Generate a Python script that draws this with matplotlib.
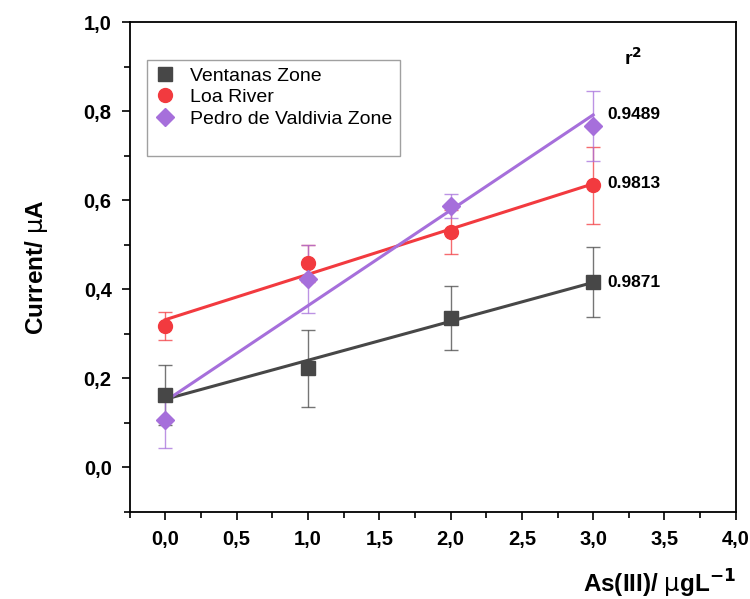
import numpy as np
import matplotlib
matplotlib.use("Agg")
import matplotlib.pyplot as plt
from matplotlib.ticker import MultipleLocator, FuncFormatter
from matplotlib.lines import Line2D

plt.rcParams['font.family'] = ['Liberation Sans', 'DejaVu Sans']

conc = [0.0, 1.0, 2.0, 3.0]

ventanas = [0.162, 0.222, 0.335, 0.416]
ventanas_err = [0.068, 0.086, 0.073, 0.079]
loa = [0.317, 0.458, 0.528, 0.633]
loa_err = [0.032, 0.042, 0.050, 0.087]
pedro = [0.106, 0.422, 0.586, 0.766]
pedro_err = [0.064, 0.076, 0.027, 0.079]

r2_labels = ['0.9871', '0.9813', '0.9489']
names = ['Ventanas Zone', 'Loa River', 'Pedro de Valdivia Zone']
colors = ['#474747', '#f23a3f', '#a66fdb']
markers = ['s', 'o', 'D']

fig = plt.figure(figsize=(7.5, 5.99), dpi=100)
ax = fig.add_axes([0.173, 0.146, 0.808, 0.817])

series = [(ventanas, ventanas_err), (loa, loa_err), (pedro, pedro_err)]
x = np.array(conc)
handles = []
for (y, err), name, c, m, r2 in zip(series, names, colors, markers, r2_labels):
    ax.errorbar(x, y, yerr=err, fmt='none', ecolor=c, elinewidth=1,
                capsize=5, capthick=1, alpha=0.75, zorder=2)
    k, b = np.polyfit(x, y, 1)
    ax.plot(x, k * x + b, color=c, lw=2.2, zorder=3)
    ms = 9 if m == 'D' else 10
    h, = ax.plot(x, y, linestyle='none', marker=m, color=c, markersize=ms,
                 label=name, zorder=4)
    handles.append(h)
    ax.text(3.1, k * 3 + b, r2, fontsize=12.5, fontweight='bold',
            va='center', ha='left')

ax.text(3.28, 0.92, r'r$^\mathbf{2}$', fontsize=14, fontweight='bold',
        ha='center', va='center')

ax.set_xlim(-0.25, 4.0)
ax.set_ylim(-0.1, 1.0)
ax.xaxis.set_major_locator(MultipleLocator(0.5))
ax.xaxis.set_minor_locator(MultipleLocator(0.25))
ax.yaxis.set_major_locator(MultipleLocator(0.2))
ax.yaxis.set_minor_locator(MultipleLocator(0.1))
comma = FuncFormatter(lambda v, p: f'{v:.1f}'.replace('.', ','))
ax.xaxis.set_major_formatter(comma)
ax.yaxis.set_major_formatter(comma)
ax.tick_params(which='both', direction='out', width=1.2, top=False, right=False)
ax.tick_params(which='major', length=6, labelsize=14.5, pad=7)
ax.tick_params(which='minor', length=4)
for lab in ax.get_xticklabels() + ax.get_yticklabels():
    lab.set_fontweight('bold')
for s in ax.spines.values():
    s.set_linewidth(1.3)

ax.set_xlabel(r'As(III)/ $\mathrm{\mu}$gL$^{\mathbf{-1}}$', fontsize=17.5,
              fontweight='bold', loc='right', labelpad=14)
ax.set_ylabel(r'Current/ $\mathrm{\mu}$A', fontsize=17.5, fontweight='bold',
              labelpad=24)

# blank last row leaves the empty strip at the bottom of the box
blank = Line2D([], [], linestyle='none')
leg = ax.legend(handles + [blank], names + [' '], loc='upper left',
                bbox_to_anchor=(0.028, 0.922), fontsize=14,
                frameon=True, fancybox=False, edgecolor='#888888',
                borderpad=0.35, labelspacing=0.2, handletextpad=0.7,
                handlelength=1.2, borderaxespad=0)
leg.get_frame().set_linewidth(1.0)

fig.savefig('out.png', dpi=100)
